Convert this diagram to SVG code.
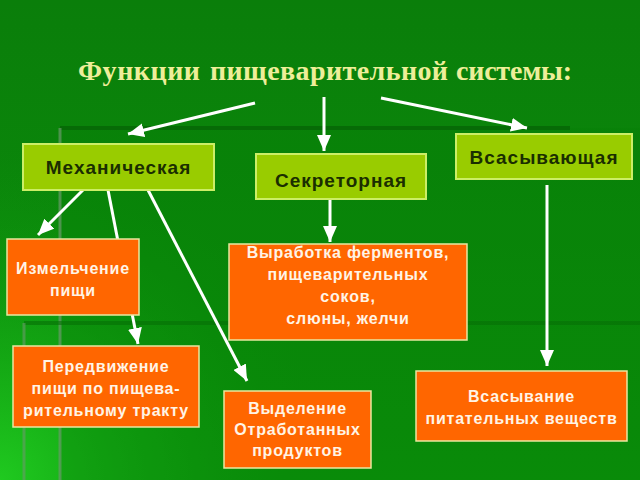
<svg xmlns="http://www.w3.org/2000/svg" width="640" height="480" viewBox="0 0 640 480">
<defs>
<linearGradient id="bg" x1="0" y1="0" x2="0" y2="1">
<stop offset="0" stop-color="#0a7e0a"/>
<stop offset="1" stop-color="#0b920b"/>
</linearGradient>
<radialGradient id="glow" cx="0" cy="480" r="330" gradientUnits="userSpaceOnUse">
<stop offset="0" stop-color="#22d022" stop-opacity="0.9"/>
<stop offset="0.5" stop-color="#18b418" stop-opacity="0.45"/>
<stop offset="1" stop-color="#0b900b" stop-opacity="0"/>
</radialGradient>
<marker id="ah" viewBox="0 0 16 14" refX="16" refY="7" markerWidth="16" markerHeight="14" markerUnits="userSpaceOnUse" orient="auto">
<path d="M0,0 L16,7 L0,14 Z" fill="#ffffff"/>
</marker>
<style>
.conn line{stroke:#ffffff;stroke-width:3;marker-end:url(#ah)}
.g rect{fill:#99cc00;stroke:#ccee66;stroke-width:2}
.g text{font-family:"Liberation Sans",Arial,sans-serif;font-weight:bold;font-size:19px;letter-spacing:1px;fill:#1a2e00;text-anchor:middle}
.o rect{fill:#ff6600;stroke:#e8e8a0;stroke-width:1.5}
.o text{font-family:"Liberation Sans",Arial,sans-serif;font-weight:bold;font-size:16px;letter-spacing:0.8px;fill:#fff4e6;text-anchor:middle}
.title{font-family:"Liberation Serif","Times New Roman",serif;font-weight:bold;font-size:28px;fill:#eeee99}
</style>
</defs>
<rect x="0" y="0" width="640" height="480" fill="url(#bg)"/>
<rect x="0" y="0" width="640" height="480" fill="url(#glow)"/>
<g id="decor">
<rect x="60" y="128" width="580" height="352" fill="#067e06" opacity="0.35"/>
<line x1="60" y1="128" x2="570" y2="128" stroke="#066606" stroke-width="4" opacity="0.8"/>
<line x1="60" y1="128" x2="60" y2="480" stroke="#6a9a6a" stroke-width="3" opacity="0.7"/>
<line x1="24" y1="323" x2="640" y2="323" stroke="#067006" stroke-width="4" opacity="0.6"/>
<line x1="24" y1="323" x2="24" y2="480" stroke="#6a9a6a" stroke-width="3" opacity="0.6"/>
</g>
<g id="title">
<text class="title" x="78" y="80" textLength="122" lengthAdjust="spacing">Функции</text>
<text class="title" x="210" y="80" textLength="238" lengthAdjust="spacing">пищеварительной</text>
<text class="title" x="456" y="80" textLength="116" lengthAdjust="spacing">системы:</text>
</g>
<g id="connectors" class="conn">
<line x1="255" y1="103" x2="128" y2="134"/>
<line x1="324" y1="97" x2="324" y2="151"/>
<line x1="381" y1="98" x2="527" y2="128"/>
<line x1="83" y1="190" x2="38" y2="235"/>
<line x1="108" y1="190" x2="138" y2="344"/>
<line x1="148" y1="190" x2="247" y2="381"/>
<line x1="330" y1="199" x2="330" y2="242"/>
<line x1="547" y1="185" x2="547" y2="366"/>
</g>
<g id="n-mech" class="g">
<rect x="23" y="144" width="191" height="46"/>
<text x="118.5" y="174">Механическая</text>
</g>
<g id="n-sekr" class="g">
<rect x="256" y="154" width="170" height="45"/>
<text x="341" y="187">Секреторная</text>
</g>
<g id="n-vsas" class="g">
<rect x="456" y="134" width="176" height="45"/>
<text x="544" y="164">Всасывающая</text>
</g>
<g id="n-izm" class="o">
<rect x="7" y="239" width="132" height="76"/>
<text x="73" y="274">Измельчение</text>
<text x="73" y="296">пищи</text>
</g>
<g id="n-vyr" class="o">
<rect x="229" y="244" width="238" height="96"/>
<text x="348" y="258">Выработка ферментов,</text>
<text x="348" y="280">пищеварительных</text>
<text x="348" y="302">соков,</text>
<text x="348" y="324">слюны, желчи</text>
</g>
<g id="n-pered" class="o">
<rect x="13" y="346" width="186" height="81"/>
<text x="106" y="372">Передвижение</text>
<text x="106" y="394">пищи по пищева-</text>
<text x="106" y="416">рительному тракту</text>
</g>
<g id="n-vyd" class="o">
<rect x="224" y="391" width="147" height="77"/>
<text x="297.5" y="414">Выделение</text>
<text x="297.5" y="435">Отработанных</text>
<text x="297.5" y="456">продуктов</text>
</g>
<g id="n-vsasyv" class="o">
<rect x="416" y="371" width="211" height="70"/>
<text x="521.5" y="402">Всасывание</text>
<text x="521.5" y="424">питательных веществ</text>
</g>
</svg>
